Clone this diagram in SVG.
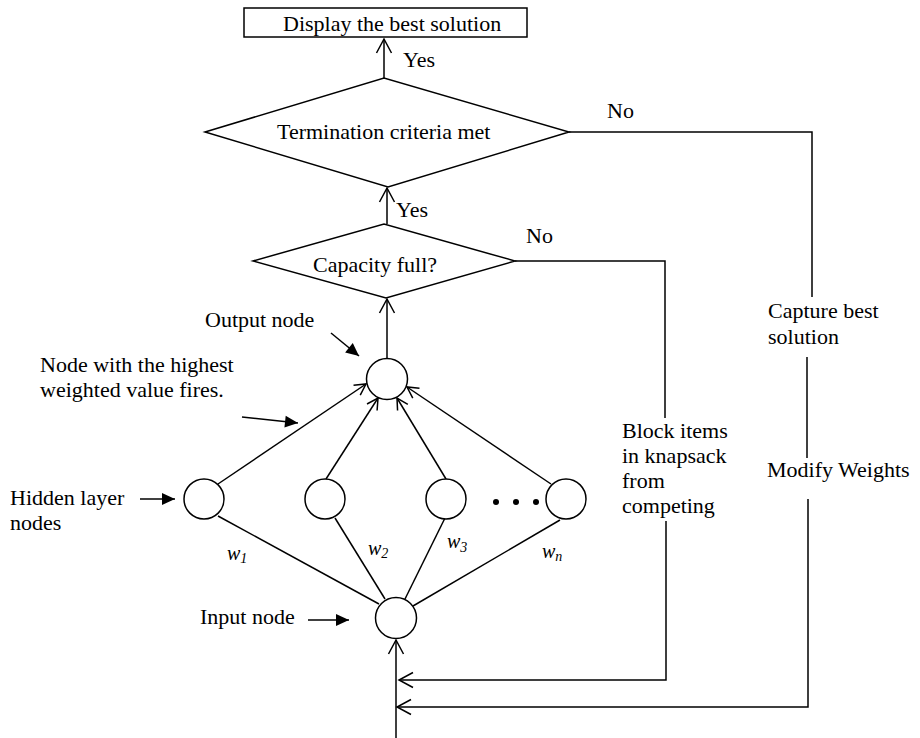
<svg xmlns="http://www.w3.org/2000/svg" width="920" height="738" viewBox="0 0 920 738">
<defs>
<style>
.t{font-family:"Liberation Serif","Times New Roman",serif;font-size:22px;fill:#000}
.w{font-family:"Liberation Serif","Times New Roman",serif;font-size:20px;font-style:italic;fill:#000}
.sub{font-size:14px}
.s{fill:#fff;stroke:#000;stroke-width:1.5}
.l{fill:none;stroke:#000;stroke-width:1.5}
.a{fill:none;stroke:#000;stroke-width:1.5;marker-end:url(#open)}
.as{fill:none;stroke:#000;stroke-width:1.5;marker-end:url(#openS)}
.p{fill:none;stroke:#000;stroke-width:1.5;marker-end:url(#fill)}
.d{fill:#000}
</style>
<marker id="open" markerUnits="userSpaceOnUse" viewBox="-15 -9 17 18" refX="0" refY="0" markerWidth="17" markerHeight="18" orient="auto" overflow="visible">
<path d="M-14,-7.5 L0,0 L-14,7.5" fill="none" stroke="#000" stroke-width="1.5"/>
</marker>
<marker id="openS" markerUnits="userSpaceOnUse" viewBox="-13 -8 15 16" refX="0" refY="0" markerWidth="15" markerHeight="16" orient="auto" overflow="visible">
<path d="M-11,-6 L0,0 L-11,6" fill="none" stroke="#000" stroke-width="1.5"/>
</marker>
<marker id="fill" markerUnits="userSpaceOnUse" viewBox="-14 -7 15 14" refX="0" refY="0" markerWidth="15" markerHeight="14" orient="auto" overflow="visible">
<path d="M-13,-6 L0,0 L-13,6 Z" fill="#000"/>
</marker>
</defs>

<g id="connectors">
<!-- termination -> display (Yes) -->
<line class="a" x1="384" y1="78" x2="384" y2="39"/>
<!-- capacity -> termination (Yes) -->
<line class="a" x1="387" y1="224" x2="387" y2="188"/>
<!-- output -> capacity -->
<line class="a" x1="387" y1="358" x2="387" y2="299"/>
<!-- hidden -> output -->
<line class="as" x1="218" y1="484" x2="366" y2="384"/>
<line class="as" x1="326" y1="479" x2="378" y2="398"/>
<line class="as" x1="446" y1="479" x2="397" y2="398"/>
<line class="as" x1="551" y1="484" x2="407" y2="387"/>
<!-- hidden -> input (weights) -->
<line class="l" x1="218" y1="516" x2="379" y2="604"/>
<line class="l" x1="335" y1="518" x2="385" y2="599"/>
<line class="l" x1="445" y1="518" x2="405" y2="599"/>
<line class="l" x1="560" y1="520" x2="413" y2="606"/>
<!-- bottom input -> input node -->
<line class="a" x1="396" y1="738" x2="396" y2="640"/>
<!-- capacity No loop -->
<polyline class="l" points="515,261 665,261 665,418"/>
<polyline class="a" points="666,521 666,680 399,680"/>
<!-- termination No loop -->
<polyline class="l" points="569,132 812,132 812,297"/>
<line class="l" x1="807" y1="357" x2="807" y2="458"/>
<polyline class="a" points="808,499 808,707 397,707"/>
</g>

<g id="display">
<rect class="s" x="244" y="8" width="283" height="29"/>
<text class="t" x="283" y="31">Display the best solution</text>
</g>
<g id="yes-top"><text class="t" x="403" y="67">Yes</text></g>

<g id="termination">
<polygon class="s" points="205,132 384,78 569,132 388,187"/>
<text class="t" x="277" y="139">Termination criteria met</text>
</g>
<g id="no-top"><text class="t" x="607" y="118">No</text></g>
<g id="yes-mid"><text class="t" x="396" y="217">Yes</text></g>

<g id="capacity">
<polygon class="s" points="253,261 384,224 515,261 386,298"/>
<text class="t" x="313" y="272">Capacity full?</text>
</g>
<g id="no-mid"><text class="t" x="526" y="243">No</text></g>

<g id="block">
<text class="t" x="622" y="438">Block items</text>
<text class="t" x="622" y="463">in knapsack</text>
<text class="t" x="622" y="488">from</text>
<text class="t" x="622" y="513">competing</text>
</g>

<g id="capture">
<text class="t" x="768" y="318">Capture best</text>
<text class="t" x="768" y="344">solution</text>
</g>
<g id="modify">
<text class="t" x="767" y="477">Modify Weights</text>
</g>

<g id="output-node">
<circle class="s" cx="387" cy="379" r="20.5"/>
</g>
<g id="output-label">
<text class="t" x="205" y="327">Output node</text>
<line class="p" x1="331" y1="333" x2="359" y2="356"/>
</g>
<g id="fires-label">
<text class="t" x="40" y="372">Node with the highest</text>
<text class="t" x="40" y="397">weighted value fires.</text>
<line class="p" x1="242" y1="417" x2="298" y2="423"/>
</g>

<g id="hidden-1"><circle class="s" cx="204" cy="499" r="20"/></g>
<g id="hidden-2"><circle class="s" cx="325" cy="499" r="20"/></g>
<g id="hidden-3"><circle class="s" cx="446" cy="499" r="20"/></g>
<g id="hidden-n"><circle class="s" cx="566" cy="499" r="20"/></g>
<g id="dots">
<circle class="d" cx="496" cy="502" r="3"/>
<circle class="d" cx="516" cy="502" r="3"/>
<circle class="d" cx="536" cy="502" r="3"/>
</g>
<g id="hidden-label">
<text class="t" x="10" y="505">Hidden layer</text>
<text class="t" x="10" y="530">nodes</text>
<line class="p" x1="140" y1="499" x2="175" y2="499"/>
</g>

<g id="weights">
<text class="w" x="227" y="560">w<tspan class="sub" dy="3">1</tspan></text>
<text class="w" x="368" y="555">w<tspan class="sub" dy="3">2</tspan></text>
<text class="w" x="447" y="548">w<tspan class="sub" dy="4">3</tspan></text>
<text class="w" x="542" y="558">w<tspan class="sub" dy="3">n</tspan></text>
</g>

<g id="input-node">
<circle class="s" cx="396" cy="618" r="20.5"/>
</g>
<g id="input-label">
<text class="t" x="200" y="624">Input node</text>
<line class="p" x1="308" y1="620" x2="349" y2="620"/>
</g>
</svg>
